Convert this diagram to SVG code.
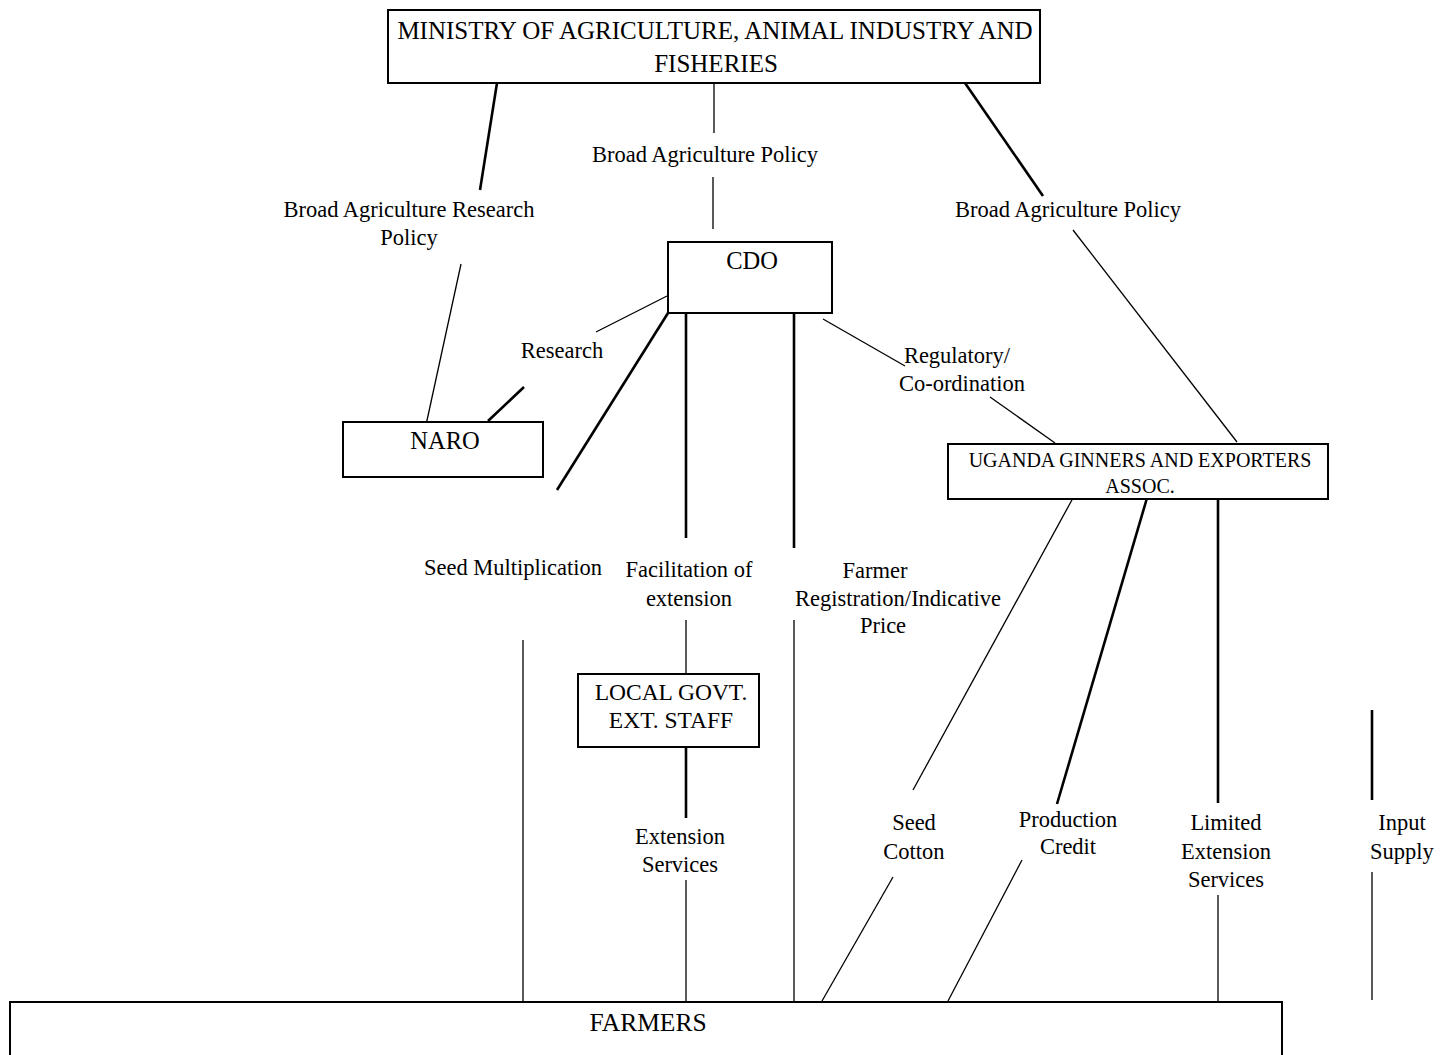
<svg xmlns="http://www.w3.org/2000/svg" width="1454" height="1055" viewBox="0 0 1454 1055">
<style>
text{font-family:'Liberation Serif','Times New Roman',Times,'DejaVu Serif',serif;font-size:22.5px;fill:#000;text-anchor:middle}
.box{fill:#fff;stroke:#000;stroke-width:2}
.thin{stroke:#000;stroke-width:1.3;fill:none}
.thick{stroke:#000;stroke-width:2.6;fill:none}
.ug{font-size:20px}
.big{font-size:25px}
.bx{font-size:24.5px}
.lg{font-size:23.5px}
.fm{font-size:25.5px}
</style>
<rect width="1454" height="1055" fill="#fff"/>
<g id="connectors">
<line class="thick" x1="497" y1="83" x2="480" y2="190"/>
<line class="thin" x1="461" y1="264" x2="426" y2="425"/>
<line class="thin" x1="714" y1="83" x2="714" y2="133"/>
<line class="thin" x1="713" y1="177" x2="713" y2="229"/>
<line class="thick" x1="965" y1="83" x2="1043" y2="196"/>
<line class="thin" x1="1073" y1="230" x2="1237" y2="442"/>
<line class="thin" x1="667" y1="296" x2="596" y2="332"/>
<line class="thick" x1="524" y1="387" x2="488" y2="421"/>
<line class="thick" x1="668" y1="313" x2="557" y2="490"/>
<line class="thin" x1="523" y1="640" x2="523" y2="1001"/>
<line class="thick" x1="686" y1="313" x2="686" y2="538"/>
<line class="thin" x1="686" y1="620" x2="686" y2="674"/>
<line class="thick" x1="686" y1="746" x2="686" y2="818"/>
<line class="thin" x1="686" y1="880" x2="686" y2="1001"/>
<line class="thick" x1="794" y1="313" x2="794" y2="548"/>
<line class="thin" x1="794" y1="620" x2="794" y2="1001"/>
<line class="thin" x1="823" y1="319" x2="905" y2="366"/>
<line class="thin" x1="990" y1="397" x2="1055" y2="443"/>
<line class="thin" x1="1073" y1="498" x2="913" y2="790"/>
<line class="thin" x1="893" y1="877" x2="822" y2="1001"/>
<line class="thick" x1="1147" y1="498" x2="1057" y2="804"/>
<line class="thin" x1="1022" y1="860" x2="948" y2="1001"/>
<line class="thick" x1="1218" y1="498" x2="1218" y2="803"/>
<line class="thin" x1="1218" y1="895" x2="1218" y2="1001"/>
<line class="thick" x1="1372" y1="710" x2="1372" y2="800"/>
<line class="thin" x1="1372" y1="872" x2="1372" y2="1000"/>
</g>
<g id="labels">
<text x="409" y="217">Broad Agriculture Research</text>
<text x="409" y="245">Policy</text>
<text x="705" y="162">Broad Agriculture Policy</text>
<text x="1068" y="217">Broad Agriculture Policy</text>
<text x="562" y="358">Research</text>
<text x="957" y="363">Regulatory/</text>
<text x="962" y="391">Co-ordination</text>
<text x="513" y="575">Seed Multiplication</text>
<text x="689" y="577">Facilitation of</text>
<text x="689" y="606">extension</text>
<text x="875" y="578">Farmer</text>
<text x="898" y="606">Registration/Indicative</text>
<text x="883" y="633">Price</text>
<text x="680" y="844">Extension</text>
<text x="680" y="872">Services</text>
<text x="914" y="830">Seed</text>
<text x="914" y="859">Cotton</text>
<text x="1068" y="827">Production</text>
<text x="1068" y="854">Credit</text>
<text x="1226" y="830">Limited</text>
<text x="1226" y="859">Extension</text>
<text x="1226" y="887">Services</text>
<text x="1402" y="830">Input</text>
<text x="1402" y="859">Supply</text>
</g>
<g id="ministry">
<rect class="box" x="388" y="10" width="652" height="73"/>
<text class="big" x="715" y="39">MINISTRY OF AGRICULTURE, ANIMAL INDUSTRY AND</text>
<text class="big" x="716" y="72">FISHERIES</text>
</g>
<g id="cdo">
<rect class="box" x="668" y="242" width="164" height="71"/>
<text class="bx" x="752" y="269">CDO</text>
</g>
<g id="naro">
<rect class="box" x="343" y="422" width="200" height="55"/>
<text class="bx" x="445" y="449">NARO</text>
</g>
<g id="ugea">
<rect class="box" x="948" y="444" width="380" height="55"/>
<text class="ug" x="1140" y="467">UGANDA GINNERS AND EXPORTERS</text>
<text class="ug" x="1140" y="493">ASSOC.</text>
</g>
<g id="localgovt">
<rect class="box" x="578" y="674" width="181" height="73"/>
<text class="lg" x="671" y="700">LOCAL GOVT.</text>
<text class="lg" x="671" y="728">EXT. STAFF</text>
</g>
<g id="farmers">
<rect class="box" x="10" y="1002" width="1272" height="80"/>
<text class="fm" x="648" y="1031">FARMERS</text>
</g>
</svg>
